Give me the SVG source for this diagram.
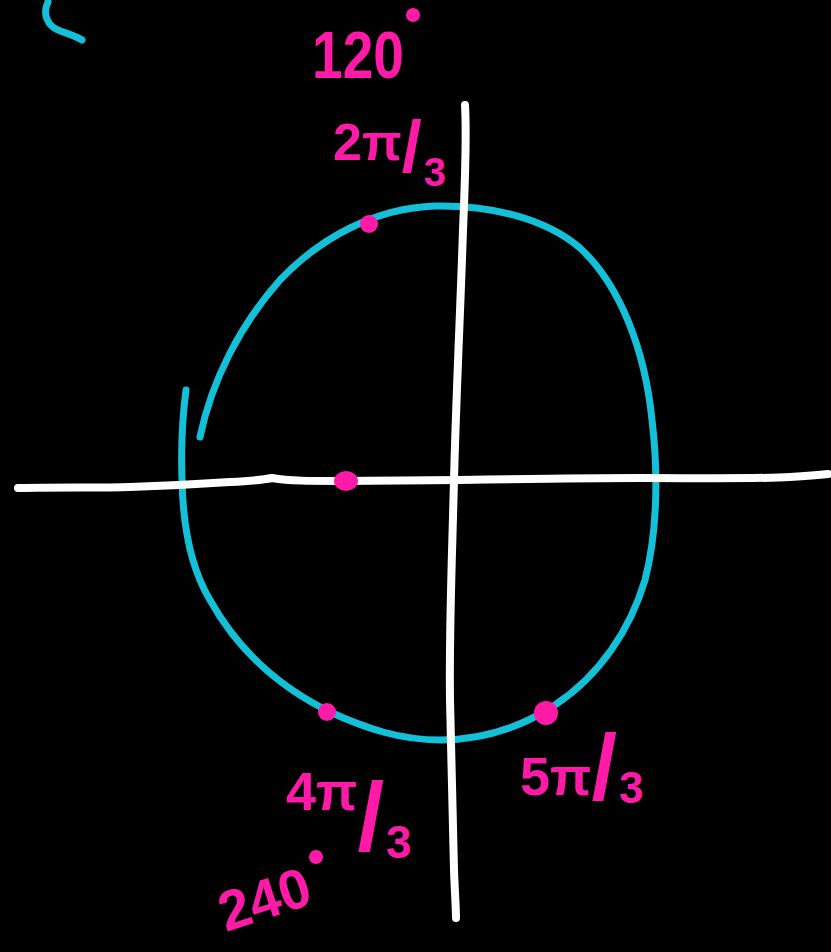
<svg xmlns="http://www.w3.org/2000/svg" width="831" height="952" viewBox="0 0 831 952">
<style>
.cy{fill:none;stroke:#14c0d8;stroke-width:7;stroke-linecap:round;stroke-linejoin:round}
.ax{fill:none;stroke:#ffffff;stroke-width:8;stroke-linecap:round;stroke-linejoin:round}
.dot{fill:#ff1aa8}
.lb{fill:#ff1aa8;font-family:"Liberation Sans",Arial,sans-serif;font-weight:bold}
</style>
<rect width="831" height="952" fill="#000000"/>
<g id="connectors">
<path class="cy" d="M48,2 C42,14 48,26 58,30 C68,34 76,36 82,40"/>
<path class="cy" d="M186,390 C182,420 181,450 182,480 C183,530 192,570 210,600 C235,645 275,685 330,712 C365,728 400,740 440,740 C480,740 520,728 555,705 C600,675 630,630 645,580 C658,530 658,470 652,420 C645,350 620,285 580,248 C545,218 490,205 435,206 C375,208 320,238 280,280 C240,325 212,380 200,437"/>
<path class="ax" d="M18,488 C60,487 100,488 130,487 C160,486 200,484 230,482 C250,481 262,480 272,478 C290,481 310,481 340,481 C380,481 420,480 460,480 C520,479 580,478 640,478 C700,478 760,479 790,477 C805,476 818,475 828,474"/>
<path class="ax" d="M465,105 C467,140 465,180 463,230 C460,320 456,400 454,480 C452,560 449,630 450,700 C451,760 453,820 454,870 C455,895 456,910 456,918"/>
</g>
<g id="dots">
<circle class="dot" cx="369" cy="224" r="9"/>
<ellipse class="dot" cx="346" cy="481" rx="12" ry="10"/>
<circle class="dot" cx="327" cy="712" r="9"/>
<circle class="dot" cx="546" cy="713" r="12"/>
</g>
<g id="label-120">
<text class="lb" x="312" y="78" font-size="66" textLength="92" lengthAdjust="spacingAndGlyphs">120</text>
<circle class="dot" cx="413" cy="15" r="7"/>
</g>
<g id="label-2pi3">
<text class="lb" x="333" y="160" font-size="52">2π<tspan font-size="72" dy="12">/</tspan><tspan font-size="40" dx="2" dy="14">3</tspan></text>
</g>
<g id="label-4pi3">
<text class="lb" x="286" y="810" font-size="54">4π<tspan font-size="96" dy="40">/</tspan><tspan font-size="46" dx="2" dy="8">3</tspan></text>
</g>
<g id="label-240">
<text class="lb" x="226" y="932" font-size="56" transform="rotate(-18 226 932)">240</text>
<circle class="dot" cx="316" cy="857" r="7"/>
</g>
<g id="label-5pi3">
<text class="lb" x="520" y="795" font-size="54">5π<tspan font-size="92" dy="4">/</tspan><tspan font-size="44" dx="2" dy="4">3</tspan></text>
</g>
</svg>
